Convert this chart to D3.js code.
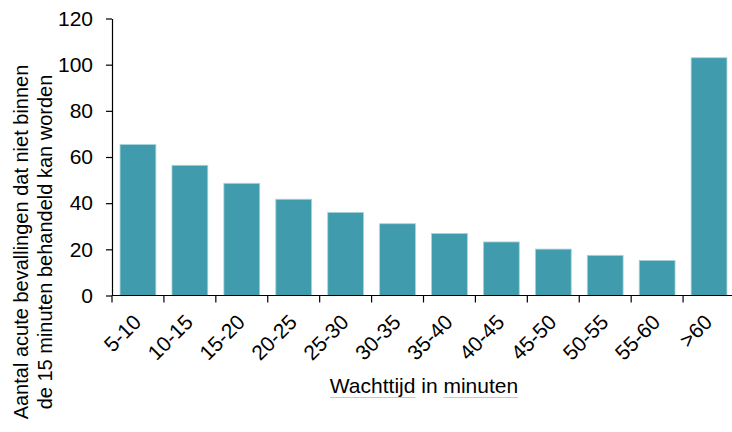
<!DOCTYPE html>
<html><head><meta charset="utf-8">
<script src="https://cdn.jsdelivr.net/npm/d3@7"></script>
<style>body{margin:0;background:#fff;} svg{display:block;font-family:"Liberation Sans",Arial,sans-serif;}</style>
</head><body>
<svg id="c" width="732" height="432"></svg>
<script>
const categories = ["5-10","10-15","15-20","20-25","25-30","30-35","35-40","40-45","45-50","50-55","55-60",">60"];
const values = [65.4, 56.4, 48.6, 41.7, 36.0, 31.1, 26.9, 23.2, 20.1, 17.4, 15.2, 103];
const yTicks = [0, 20, 40, 60, 80, 100, 120];
const xTitleWords = ["Wachttijd", "in", "minuten"];
const yTitle = ["Aantal acute bevallingen dat niet binnen", "de 15 minuten behandeld kan worden"];

const FONT = "Liberation Sans, Arial, sans-serif";
const svg = d3.select("#c");
const x = d3.scaleBand().domain(categories).range([112, 735]).paddingInner(0.31).paddingOuter(0.155);
const y = d3.scaleLinear().domain([0, 120]).range([295.5, 18.5]);

// bars
svg.append("g").selectAll("rect").data(values).join("rect")
  .attr("x", (d,i) => x(categories[i]))
  .attr("y", d => y(d))
  .attr("width", x.bandwidth())
  .attr("height", d => y(0) - y(d))
  .attr("fill", "#409cad")
  .attr("stroke", "#a9d3dc").attr("stroke-width", 0.8);

// y axis
const ya = svg.append("g").attr("transform", "translate(112,0)")
  .call(d3.axisLeft(y).tickValues(yTicks).tickSize(6).tickPadding(13).tickSizeOuter(0));
ya.select(".domain").attr("stroke", "#000").attr("stroke-width", 1.2);
ya.selectAll(".tick line").attr("stroke", "#000").attr("stroke-width", 1.2);
ya.selectAll("text").attr("font-size", 21).attr("fill", "#000").attr("font-family", FONT);

// x axis
const step = x.step();
const xa = svg.append("g").attr("transform", "translate(0,295.5)");
xa.append("line").attr("x1", 112).attr("x2", 732).attr("y1", 0).attr("y2", 0).attr("stroke", "#000").attr("stroke-width", 1.2);
xa.selectAll("line.t").data(categories).join("line").attr("class","t")
  .attr("x1", d => x(d) - x.paddingInner()*step/2).attr("x2", d => x(d) - x.paddingInner()*step/2)
  .attr("y1", 0).attr("y2", 7).attr("stroke", "#000").attr("stroke-width", 1.2);
xa.selectAll("text").data(categories).join("text")
  .attr("transform", d => `translate(${x(d) + x.bandwidth()/2 + 4.5},${28}) rotate(-45)`)
  .attr("text-anchor", "end").attr("font-size", 21).attr("fill", "#000").attr("font-family", FONT)
  .text(d => d);

// x title
const xt = svg.append("text").attr("x", 424).attr("y", 392.5).attr("text-anchor", "middle")
  .attr("font-size", 21).attr("fill", "#000").attr("font-family", FONT);
xt.selectAll("tspan").data(xTitleWords).join("tspan")
  .text((d,i) => (i ? " " : "") + d);
// spell-check style underline under the first and last words
const tnode = xt.node();
const full = xTitleWords.join(" ");
[0, 2].forEach(wi => {
  const idx = full.indexOf(xTitleWords[wi]);
  const x0 = tnode.getStartPositionOfChar(idx).x;
  const x1 = tnode.getEndPositionOfChar(idx + xTitleWords[wi].length - 1).x;
  svg.append("line").attr("x1", x0).attr("x2", x1).attr("y1", 397.5).attr("y2", 397.5)
    .attr("stroke", "#f5b3b3").attr("stroke-width", 1);
});

// y title
svg.append("g").attr("transform", "translate(0,242) rotate(-90)")
  .selectAll("text").data(yTitle).join("text")
  .attr("x", 0).attr("y", (d,i) => 27.5 + i*24)
  .attr("text-anchor", "middle").attr("font-size", 20).attr("fill", "#000").attr("font-family", FONT)
  .text(d => d);
</script>
</body></html>
